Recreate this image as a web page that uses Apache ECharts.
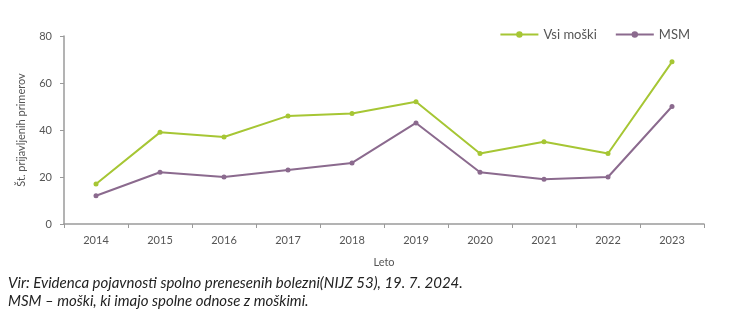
<!DOCTYPE html>
<html><head><meta charset="utf-8">
<script src="https://cdn.jsdelivr.net/npm/echarts@6/dist/echarts.min.js"></script>
<style>html,body{margin:0;padding:0;background:#fff}#c{width:750px;height:323px}</style>
</head><body><div id="c"></div>
<script>
const categories = ['2014','2015','2016','2017','2018','2019','2020','2021','2022','2023'];
const vsiMoski = [17, 39, 37, 46, 47, 52, 30, 35, 30, 69];
const msm = [12, 22, 20, 23, 26, 43, 22, 19, 20, 50];
const seriesNames = ['Vsi moški', 'MSM'];
const yTicks = [0, 20, 40, 60, 80];
const footnote1 = 'Vir: Evidenca pojavnosti spolno prenesenih bolezni(NIJZ 53), 19. 7. 2024.';
const footnote2 = 'MSM – moški, ki imajo spolne odnose z moškimi.';

const green = '#a6c634', purple = '#8b6a8e';
const font = 'Lato';
const chart = echarts.init(document.getElementById('c'));
chart.setOption({
  animation: false,
  textStyle: {fontFamily: font},
  grid: {left: 64, right: 46, top: 36, bottom: 99},
  legend: {
    data: seriesNames, right: 55, top: 23, itemWidth: 38, itemHeight: 8, itemGap: 18,
    textStyle: {color: '#555', fontSize: 13, fontFamily: font}
  },
  xAxis: {
    type: 'category', data: categories, boundaryGap: true,
    name: 'Leto', nameLocation: 'middle', nameGap: 33,
    nameTextStyle: {color: '#555', fontSize: 11, fontFamily: font},
    axisLine: {lineStyle: {color: '#9a9a9a', width: 1.5}},
    axisTick: {show: true, inside: false, length: 4, lineStyle: {color: '#9a9a9a'}},
    axisLabel: {color: '#555', fontSize: 11, margin: 11, fontFamily: font}
  },
  yAxis: {
    type: 'value', min: yTicks[0], max: yTicks[yTicks.length - 1], interval: 20,
    name: 'Št. prijavljenih primerov', nameLocation: 'middle', nameGap: 37,
    nameTextStyle: {color: '#555', fontSize: 11, fontFamily: font},
    axisLine: {show: true, lineStyle: {color: '#9a9a9a', width: 1.5}},
    axisTick: {show: true, length: 4, lineStyle: {color: '#9a9a9a'}},
    splitLine: {show: false},
    axisLabel: {color: '#555', fontSize: 11, margin: 12, fontFamily: font}
  },
  series: [
    {name: seriesNames[0], type: 'line', data: vsiMoski, symbol: 'circle', symbolSize: 5,
     itemStyle: {color: green}, lineStyle: {color: green, width: 2}},
    {name: seriesNames[1], type: 'line', data: msm, symbol: 'circle', symbolSize: 5,
     itemStyle: {color: purple}, lineStyle: {color: purple, width: 2}}
  ],
  graphic: [
    {type: 'text', left: 8, top: 276, style: {text: footnote1, fill: '#222', font: 'italic 15px ' + font}},
    {type: 'text', left: 8, top: 294, style: {text: footnote2, fill: '#222', font: 'italic 15px ' + font}}
  ]
});
</script></body></html>
